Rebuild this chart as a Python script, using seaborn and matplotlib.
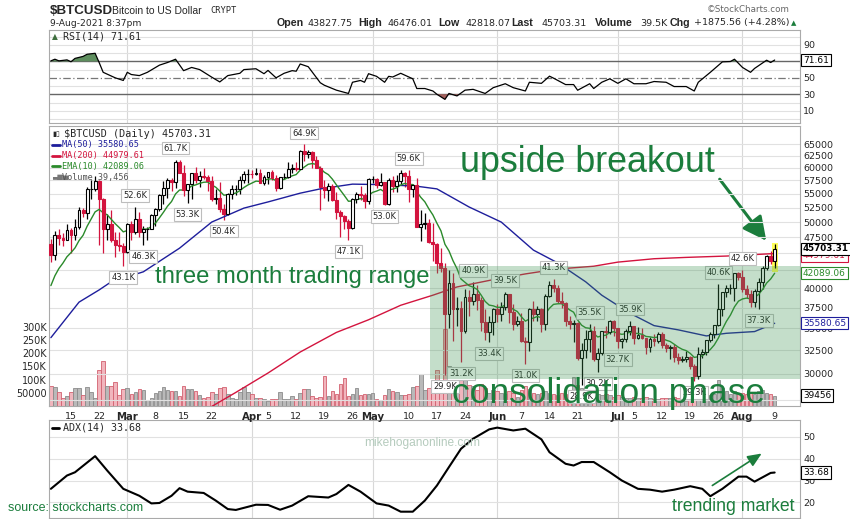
import numpy as np
import matplotlib
matplotlib.use("Agg")
import matplotlib.pyplot as plt
from matplotlib.patches import Rectangle, FancyArrowPatch
from matplotlib.lines import Line2D
from matplotlib.ticker import NullLocator, NullFormatter
import seaborn as sns

sns.set_style("white")
plt.rcParams['font.family'] = ['DejaVu Sans']

# ---- daily candles, Feb 10 2021 .. Aug 9 2021 (day 0 = Feb 10), thousands of USD
opens = [46.4, 44.8, 47.9, 47.4, 47.1, 48.7, 47.9, 49.1, 52.1, 51.6, 55.9, 55.9, 57.4, 54.1, 48.9, 49.7, 47.1, 46.3, 46.2,
         45.2, 49.6, 48.4, 50.5, 48.4, 48.8, 48.9, 51.2, 52.3, 54.8, 56.0, 57.5, 57.3, 61.2, 59.0, 55.6, 56.9, 58.9, 57.6,
         58.3, 58.1, 57.4, 54.1, 54.3, 52.3, 51.3, 55.0, 55.8, 55.8, 57.6, 58.8,
         58.8, 58.7, 59.0, 57.1, 58.2, 59.1, 58.0, 56.0, 58.1, 58.1, 59.8, 59.9, 59.8, 63.5, 62.9, 63.3, 61.5, 60.0, 56.2,
         55.7, 56.5, 53.8, 51.7, 51.1, 50.1, 49.0, 54.0, 55.0, 54.8, 53.6,
         57.7, 57.8, 56.6, 57.2, 53.2, 57.5, 56.4, 57.4, 58.9, 58.3, 55.8, 56.7, 49.2, 49.7, 49.9, 46.7, 46.4, 43.5, 42.9,
         36.7, 40.8, 37.3, 37.5, 34.7, 38.8, 38.3, 39.3, 38.5, 35.7, 34.6, 35.7,
         37.3, 36.7, 37.6, 39.2, 36.9, 35.5, 35.8, 33.5, 33.4, 37.3, 36.7, 37.3, 35.5, 39.0, 40.5, 40.1, 38.3, 38.1, 35.8,
         35.5, 35.6, 31.7, 32.5, 33.7, 34.7, 31.6, 32.2, 34.7, 34.5, 35.9,
         35.0, 33.5, 33.8, 34.7, 35.3, 33.9, 34.2, 33.9, 32.9, 33.8, 33.5, 34.3, 33.1, 32.7, 32.8, 31.8, 31.4, 31.5, 31.8,
         30.8, 29.8, 32.1, 32.3, 33.6, 34.3, 35.4, 37.3, 39.5, 40.0, 40.0, 42.2,
         41.6, 39.9, 39.2, 38.2, 39.7, 40.9, 42.9, 44.6, 43.83]
highs = [47.3, 48.6, 48.9, 48.2, 49.7, 49.0, 50.5, 52.6, 52.5, 56.2, 57.5, 58.3, 57.5, 54.2, 51.4, 52.1, 48.4, 48.4, 46.6,
         49.8, 50.2, 52.6, 51.8, 49.4, 49.2, 51.4, 52.4, 54.9, 57.4, 58.0, 58.0, 61.7, 61.6, 60.6, 56.9, 58.9, 60.1, 59.4,
         59.9, 58.6, 58.4, 55.8, 57.2, 53.2, 55.1, 56.6, 56.6, 58.4, 59.4, 59.8,
         59.5, 60.0, 59.8, 58.5, 59.2, 59.5, 58.6, 58.2, 58.9, 61.2, 60.7, 61.2, 63.7, 64.9, 63.8, 63.5, 62.5, 60.4, 57.6,
         57.0, 56.8, 55.4, 52.1, 51.2, 50.5, 54.3, 55.4, 56.4, 55.2, 58.0,
         58.4, 57.9, 58.9, 57.2, 57.9, 58.3, 58.6, 59.5, 59.2, 59.6, 56.9, 58.0, 52.0, 51.5, 50.6, 49.8, 46.6, 45.8, 43.5,
         42.5, 42.2, 38.8, 38.3, 39.9, 39.8, 40.9, 40.4, 38.9, 37.3, 36.4, 37.5,
         37.9, 38.2, 39.5, 39.3, 37.9, 36.4, 36.8, 34.0, 37.5, 38.4, 37.7, 37.4, 39.3, 41.0, 41.3, 40.5, 39.5, 38.2, 36.4,
         36.0, 35.7, 33.3, 34.8, 35.5, 35.3, 32.7, 34.7, 35.3, 36.0, 36.0,
         35.0, 33.9, 34.9, 35.9, 35.3, 35.1, 35.0, 33.9, 34.0, 34.3, 34.6, 34.6, 33.3, 33.1, 33.2, 32.2, 31.9, 32.4, 31.9,
         31.0, 32.8, 32.6, 33.6, 34.5, 35.4, 40.6, 39.5, 40.5, 40.6, 42.2, 42.3,
         42.6, 40.4, 39.8, 39.9, 41.4, 43.1, 44.7, 45.3, 46.48]
lows = [43.7, 44.0, 46.3, 46.1, 47.0, 45.0, 47.0, 48.9, 50.9, 50.6, 54.0, 55.5, 46.3, 45.0, 47.1, 46.7, 44.4, 45.3, 43.1,
        45.1, 47.1, 48.1, 47.5, 46.3, 47.1, 48.9, 49.3, 51.9, 53.1, 54.3, 55.5, 56.1, 59.0, 54.6, 53.3, 54.1, 57.0, 56.3,
        57.8, 55.5, 53.7, 53.1, 51.7, 50.4, 51.2, 54.0, 54.7, 54.9, 57.0, 57.0,
        58.0, 58.5, 57.1, 56.6, 56.8, 57.6, 55.5, 55.9, 57.7, 57.9, 59.0, 59.4, 59.8, 61.3, 62.1, 60.0, 59.9, 52.0, 54.3,
        53.6, 53.7, 50.6, 47.6, 48.8, 47.1, 48.8, 53.3, 53.9, 52.4, 53.1,
        57.1, 56.1, 56.5, 53.0, 52.9, 55.3, 55.4, 56.9, 56.3, 53.5, 54.4, 49.1, 46.9, 48.9, 46.6, 43.8, 42.2, 42.3, 29.9,
        35.0, 33.5, 35.3, 31.2, 34.4, 36.4, 37.8, 37.2, 34.7, 33.6, 33.4, 34.2,
        35.7, 35.9, 37.2, 35.6, 34.8, 35.3, 33.4, 31.0, 32.4, 35.8, 35.9, 34.6, 34.8, 38.8, 39.5, 38.1, 37.4, 35.2, 34.9,
        33.4, 31.4, 28.9, 31.7, 32.3, 31.3, 30.2, 32.0, 33.9, 34.3, 34.1,
        32.7, 32.7, 33.4, 34.2, 33.2, 33.7, 33.8, 32.1, 32.3, 33.0, 33.3, 32.7, 32.3, 31.6, 31.2, 31.0, 31.2, 31.2, 30.5,
        29.3, 29.5, 31.7, 32.0, 33.4, 33.9, 35.3, 36.4, 38.8, 39.3, 38.3, 41.1,
        39.5, 38.7, 37.6, 37.6, 37.3, 39.9, 42.6, 43.4, 42.82]
closes = [44.8, 47.9, 47.4, 47.1, 48.7, 47.9, 49.1, 52.1, 51.6, 55.9, 55.9, 57.4, 54.1, 48.9, 49.7, 47.1, 46.3, 46.2, 45.2,
          49.6, 48.4, 50.5, 48.4, 48.8, 48.9, 51.2, 52.3, 54.8, 56.0, 57.5, 57.3, 61.2, 59.0, 55.6, 56.9, 58.9, 57.6, 58.3,
          58.1, 57.4, 54.1, 54.3, 52.3, 51.3, 55.0, 55.8, 55.8, 57.6, 58.8, 58.8,
          58.7, 59.0, 57.1, 58.2, 59.1, 58.0, 56.0, 58.1, 58.1, 59.8, 59.9, 59.8, 63.5, 62.9, 63.3, 61.5, 60.0, 56.2, 55.7,
          56.5, 53.8, 51.7, 51.1, 50.1, 49.0, 54.0, 55.0, 54.8, 53.6, 57.7,
          57.8, 56.6, 57.2, 53.2, 57.5, 56.4, 57.4, 58.9, 58.3, 55.8, 56.7, 49.2, 49.7, 49.9, 46.7, 46.4, 43.5, 42.9, 36.7,
          40.8, 37.3, 37.5, 34.7, 38.8, 38.3, 39.3, 38.5, 35.7, 34.6, 35.7, 37.3,
          36.7, 37.6, 39.2, 36.9, 35.5, 35.8, 33.5, 33.4, 37.3, 36.7, 37.3, 35.5, 39.0, 40.5, 40.1, 38.3, 38.1, 35.8, 35.5,
          35.6, 31.7, 32.5, 33.7, 34.7, 31.6, 32.2, 34.7, 34.5, 35.9, 35.0,
          33.5, 33.8, 34.7, 35.3, 33.9, 34.2, 33.9, 32.9, 33.8, 33.5, 34.3, 33.1, 32.7, 32.8, 31.8, 31.4, 31.5, 31.8, 30.8,
          29.8, 32.1, 32.3, 33.6, 34.3, 35.4, 37.3, 39.5, 40.0, 40.0, 42.2, 41.6,
          39.9, 39.2, 38.2, 39.7, 40.9, 42.9, 44.6, 43.8, 45.70]
# volume, thousands
volumes = [76, 71, 54, 32, 36, 52, 67, 67, 40, 71, 52, 32, 137, 169, 75, 75, 90, 40, 66,
           67, 44, 54, 64, 59, 22, 31, 48, 57, 71, 61, 57, 57, 36, 75, 65, 65, 57, 40, 30, 34, 54, 46, 67, 71, 44, 31,
           27, 52, 71, 52,
           46, 31, 31, 26, 18, 28, 28, 54, 26, 25, 39, 26, 48, 65, 64, 36, 32, 35, 114, 36, 57, 44, 83, 106, 36, 44, 67,
           41, 44, 44,
           48, 26, 22, 41, 65, 57, 52, 41, 41, 44, 71, 75, 123, 60, 70, 95, 135, 100, 290, 150, 120, 80, 130, 100, 80,
           75, 60, 85, 70, 50, 60,
           55, 50, 45, 55, 50, 35, 60, 75, 65, 50, 45, 50, 55, 50, 45, 40, 50, 45, 40, 110, 80, 70, 55, 65, 55, 45, 40,
           45, 40, 35,
           40, 35, 30, 30, 35, 30, 30, 35, 30, 25, 25, 30, 30, 30, 35, 30, 20, 20, 30, 40, 60, 45, 40, 40, 45, 97, 70,
           55, 45, 55, 45,
           50, 45, 50, 45, 55, 60, 50, 45, 39.456]

ema10_seed = 39.4   # EMA(10) value the day before the first candle

ma50_days = [0, 7, 12, 15, 23, 32, 40, 48, 54, 62, 67, 75, 83, 91, 96, 104, 112, 120, 126, 133, 137, 144, 150, 156,
             163, 168, 175, 180]
ma50_vals = [33.9, 38.2, 39.8, 40.9, 42.3, 45.8, 50.0, 52.4, 53.5, 55.1, 55.9, 56.8, 56.7, 56.4, 55.9, 52.6, 50.0,
             45.5, 43.6, 40.9, 39.1, 36.8, 35.3, 34.8, 34.1, 34.4, 34.6, 35.58]
ma200_days = [40, 46, 54, 62, 71, 79, 87, 95, 101, 110, 118, 126, 135, 141, 150, 158, 168, 180]
ma200_vals = [26.9, 28.2, 30.1, 32.3, 34.5, 36.0, 37.8, 39.1, 40.2, 41.2, 42.0, 42.7, 43.1, 43.7, 44.2, 44.4, 44.6,
              44.98]

rsi_days = [0, 1, 2, 4, 5, 6, 8, 9, 11, 12, 13, 16, 18, 19, 20, 22, 24, 27, 29, 31, 33, 35, 37, 40, 42, 44, 47, 48,
            51, 53, 54, 56, 58, 60, 61, 62, 64, 67, 68, 71, 74, 75, 77, 78, 79, 81, 83, 84, 85, 87, 90, 91, 93, 95,
            96, 98, 99, 101, 103, 105, 108, 110, 113, 115, 118, 119, 122, 124, 125, 128, 130, 131, 134, 135, 137,
            139, 141, 143, 145, 148, 150, 153, 155, 158, 160, 161, 164, 167, 169, 170, 172, 174, 175, 178, 179, 180]
rsi_vals = [70.6, 72.6, 70.6, 71.8, 69.5, 73.6, 76, 78.6, 79.8, 68.6, 56.7, 50, 46.8, 56.7, 54, 52.7, 56.7, 65.4,
            68.6, 72.6, 58.7, 62.6, 60, 50.8, 45, 52.7, 55.5, 60, 61, 55, 59, 50, 55.5, 58.7, 58, 66.8, 63.5, 44, 41,
            35, 31, 44.6, 46.8, 44.6, 55, 51.8, 44.6, 51.8, 51, 55.5, 48.8, 37, 37, 34, 30, 23.8, 31, 28, 35, 36, 31,
            38, 42.8, 38, 34, 44.6, 43.3, 52, 49.6, 41.8, 41.8, 34.9, 42.8, 37, 44.6, 48.8, 43.3, 48.8, 42.8, 42.8,
            45.5, 44.6, 39.4, 39.4, 34, 44.6, 56.7, 69.4, 69.8, 72.6, 62.6, 56.7, 61.4, 71.4, 68.6, 71.61]

adx_days = [0, 4, 6, 11, 14, 18, 22, 25, 27, 30, 32, 34, 38, 41, 44, 46, 51, 54, 57, 60, 64, 69, 71, 74, 77, 81, 84,
            87, 90, 93, 96, 99, 102, 105, 109, 111, 115, 118, 122, 124, 128, 130, 132, 135, 139, 142, 146, 149, 152,
            155, 159, 162, 164, 167, 171, 173, 175, 179, 180]
adx_vals = [26.2, 32.3, 33.8, 41.2, 34.6, 26.2, 23, 19.5, 19.7, 23, 26.5, 24.9, 24.3, 20.8, 16.9, 16.5, 18.9, 18.8,
            16.6, 18.5, 22.8, 22.2, 23.8, 28, 24.9, 19.5, 18.5, 15.7, 15.7, 20.8, 27.7, 36.2, 44.6, 49.2, 53.5, 54.3,
            53, 53.8, 48.9, 43, 37.7, 36.9, 38.5, 38.5, 33.8, 30, 26.2, 25.8, 24.9, 25.8, 27.4, 26.2, 22.8, 26.2,
            31.8, 31.8, 29.5, 33.5, 33.68]

last_price = "45703.31"
ma50_last = 35580.65
ma200_last = 44979.61
ema10_last = 42089.06
volume_last = 39456
rsi_last = 71.61
adx_last = 33.68

high_label_days = [21, 31, 63, 89, 105, 113, 125, 134, 144, 166, 172]
low_label_days = [18, 23, 34, 43, 74, 83, 98, 102, 109, 118, 132, 136, 141, 160, 176]

tick_days = [5, 12, 19, 26, 33, 40, 50, 54, 61, 68, 75, 80, 89, 96, 103, 111, 117, 124, 131, 141, 145, 152, 159,
             166, 172, 180]
tick_labels = ["15", "22", "Mar", "8", "15", "22", "Apr", "5", "12", "19", "26", "May", "10", "17", "24", "Jun",
               "7", "14", "21", "Jul", "5", "12", "19", "26", "Aug", "9"]
month_names = ["Mar", "Apr", "May", "Jun", "Jul", "Aug"]
month_days = [19, 50, 80, 111, 141, 172]

price_ticks = [27.5, 30, 32.5, 35, 37.5, 40, 42.5, 45, 47.5, 50, 52.5, 55, 57.5, 60, 62.5, 65]
vol_ticks = [50, 100, 150, 200, 250, 300]
vol_tick_labels = ["50000", "100K", "150K", "200K", "250K", "300K"]

# consolidation box (day span, price span in K)
box_start, box_low, box_high = 94.3, 29.5, 43.1

# ---- derived series
o = np.array(opens); h = np.array(highs); l = np.array(lows); c = np.array(closes)
v = np.array(volumes)
days = np.arange(len(c))
prev_c = np.concatenate([[o[0]], c[:-1]])

ema10 = []
e = ema10_seed
for val in c:
    e = e + 2.0 / 11 * (val - e)
    ema10.append(e)

RED = "#d3143e"
NAVY = "#1e1e9c"
GREEN = "#2a8a2a"
TXTGREEN = "#1b7d3c"
GRID = "#e1e1e1"
SPINE = "#aaaaaa"

W, H = 850, 519
fig = plt.figure(figsize=(W / 100, H / 100), dpi=100)


def fx(x):
    return x / W


def fy(y):
    return 1 - y / H


def rect(left, top, right, bottom):
    return [left / W, 1 - bottom / H, (right - left) / W, (bottom - top) / H]


XL = (-0.47, 186.3)
ax_rsi = fig.add_axes(rect(49, 30, 800, 123))
ax_vol = fig.add_axes(rect(49, 126, 800, 406))
ax = fig.add_axes(rect(49, 126, 800, 406))
ax_adx = fig.add_axes(rect(49, 420, 800, 518))
ax.set_zorder(ax_vol.get_zorder() + 1)
ax.patch.set_visible(False)

for a in (ax_rsi, ax, ax_adx, ax_vol):
    for s in a.spines.values():
        s.set_color(SPINE)
        s.set_linewidth(0.8)
for s in ax_vol.spines.values():
    s.set_visible(False)

for a in (ax_rsi, ax_vol, ax_adx):
    for d in month_days:
        a.axvline(d, color="#d8d8d8", lw=0.8, zorder=0)

# ---- volume
vol_down = c < prev_c
ax_vol.bar(days, v, width=0.9,
           color=np.where(vol_down, "#f1b5bd", "#b9b9b9"),
           edgecolor=np.where(vol_down, "#d26170", "#8c8c8c"), linewidth=0.6, zorder=2)
ax_vol.set_ylim(0, 1060)
ax_vol.set_xlim(*XL)
ax_vol.set_yticks(vol_ticks)
ax_vol.set_yticklabels(vol_tick_labels)
ax_vol.tick_params(axis='y', length=0, pad=1.5, labelsize=6.9, left=True, labelleft=True,
                   right=False, labelright=False)
ax_vol.tick_params(axis='x', bottom=False, labelbottom=False)

# ---- price panel
ax.set_yscale('log')
ax.grid(axis='y', color=GRID, lw=0.8, zorder=0)
ax.set_axisbelow(True)

cols = np.where(c < prev_c, RED, "black")
faces = np.where(c < o, cols, "white")
ax.vlines(days, l, h, colors=cols, lw=0.9, zorder=3)
ax.bar(days, np.maximum(np.abs(c - o), 0.06), bottom=np.minimum(o, c), width=0.72,
       color=faces, edgecolor=cols, linewidth=0.8, zorder=4)

sns.lineplot(x=ma200_days, y=ma200_vals, ax=ax, color=RED, lw=1.0, zorder=3.5)
sns.lineplot(x=ma50_days, y=ma50_vals, ax=ax, color=NAVY, lw=1.0, zorder=3.5)
sns.lineplot(x=days, y=ema10, ax=ax, color=GREEN, lw=1.0, zorder=3.5)

# last candle highlight
ax.add_patch(Rectangle((days[-1] - 0.75, l[-1] * 0.987), 1.5, h[-1] * 1.001 - l[-1] * 0.987,
                       facecolor="#ffff58", edgecolor="none", zorder=2.8))

lab_style = dict(fontsize=6, ha='center', zorder=4.5,
                 bbox=dict(boxstyle='square,pad=0.22', fc='white', ec='#bdbdbd', lw=0.8))
for d in high_label_days:
    ax.annotate(f"{h[d]:.1f}K", xy=(d, h[d]), xytext=(0, 5), textcoords='offset points', va='bottom', **lab_style)
for d in low_label_days:
    ax.annotate(f"{l[d]:.1f}K", xy=(d, l[d]), xytext=(0, -5), textcoords='offset points', va='top', **lab_style)

ax.add_patch(Rectangle((box_start, box_low), XL[1] - box_start, box_high - box_low,
                       facecolor="#3e9452", alpha=0.3, edgecolor="none", zorder=5))

ax.set_xlim(*XL)
ax.set_ylim(26.94, 69.06)
ax.yaxis.set_minor_locator(NullLocator())
ax.yaxis.set_minor_formatter(NullFormatter())
ax.set_yticks(price_ticks)
ax.set_yticklabels([f"{t * 1000:.0f}" for t in price_ticks])
ax.yaxis.tick_right()
ax.tick_params(axis='y', length=0, pad=2.2, labelsize=6.8)
ax.set_xticks(tick_days)
ax.set_xticklabels(tick_labels)
ax.tick_params(axis='x', length=2.5, width=0.6, color=SPINE, pad=1.5, labelsize=6.8)
for lab in ax.get_xticklabels():
    if lab.get_text() in month_names:
        lab.set_fontweight('bold')
        lab.set_fontsize(7.3)
ax.set_xlabel("")
ax.set_ylabel("")


def right_box(a, y, text, color, weight='normal', z=8, trans=None, size=6.5):
    a.text(1.004, y, text, transform=trans or a.get_yaxis_transform(), ha='left', va='center',
           fontsize=size, color=color, fontweight=weight, clip_on=False, zorder=z,
           bbox=dict(boxstyle='square,pad=0.18', fc='white', ec=color, lw=0.8))


right_box(ax, ma200_last / 1000 * 0.992, f"{ma200_last:.2f}", RED, z=8)
right_box(ax, float(last_price) / 1000, last_price, 'black', weight='bold', z=9, size=6.3)
right_box(ax, ema10_last / 1000, f"{ema10_last:.2f}", GREEN)
right_box(ax, ma50_last / 1000, f"{ma50_last:.2f}", NAVY)
right_box(ax, volume_last / 1000, f"{volume_last}", 'black', trans=ax_vol.get_yaxis_transform(), size=6.4)

# ---- RSI panel
for lv in range(0, 101, 10):
    if lv in (30, 70):
        ax_rsi.axhline(lv, color="#666666", lw=1.0, zorder=1)
    elif lv == 50:
        ax_rsi.axhline(lv, color="#777777", lw=0.9, ls=(0, (6, 2, 1, 2)), zorder=1)
    else:
        ax_rsi.axhline(lv, color=GRID, lw=0.8, zorder=0)
rsi_d = np.array(rsi_days, dtype=float)
rsi_v = np.array(rsi_vals)
ax_rsi.fill_between(rsi_d, rsi_v, 70, where=rsi_v > 70, interpolate=True, color="#5e8e5e", lw=0, zorder=2)
ax_rsi.fill_between(rsi_d, rsi_v, 30, where=rsi_v < 30, interpolate=True, color="#a3605c", lw=0, zorder=2)
sns.lineplot(x=rsi_d, y=rsi_v, ax=ax_rsi, color='black', lw=0.9, zorder=3)
ax_rsi.set_xlim(*XL)
ax_rsi.set_ylim(-4.9, 108.1)
ax_rsi.set_yticks([10, 30, 50, 70, 90])
ax_rsi.yaxis.tick_right()
ax_rsi.tick_params(axis='y', length=0, pad=2.2, labelsize=6.8)
ax_rsi.set_xticks([])
ax_rsi.set_xlabel("")
ax_rsi.set_ylabel("")
right_box(ax_rsi, rsi_last, f"{rsi_last:.2f}", 'black')

# ---- ADX panel
for lv in (20, 30, 40, 50):
    ax_adx.axhline(lv, color=GRID, lw=0.8, zorder=0)
sns.lineplot(x=adx_days, y=adx_vals, ax=ax_adx, color='black', lw=1.5, zorder=3)
ax_adx.set_xlim(*XL)
ax_adx.set_ylim(12.8, 57.8)
ax_adx.set_yticks([20, 30, 40, 50])
ax_adx.yaxis.tick_right()
ax_adx.tick_params(axis='y', length=0, pad=2.2, labelsize=6.8)
ax_adx.set_xticks([])
ax_adx.set_xlabel("")
ax_adx.set_ylabel("")
right_box(ax_adx, adx_last, f"{adx_last:.2f}", 'black')

# ---- header
fig.text(fx(50), fy(13.5), r"\$BTCUSD", family='Liberation Sans', weight='bold', size=9.6, va='baseline')
fig.text(fx(112), fy(13.5), "Bitcoin to US Dollar", family='Liberation Sans', size=7.5, va='baseline')
fig.text(fx(210), fy(13.0), "CRYPT", family='DejaVu Sans Mono', size=6.3, va='baseline')
fig.text(fx(50), fy(25.5), "9-Aug-2021 8:37pm", size=6.6, va='baseline')
fig.text(fx(790), fy(11.5), "\u00a9StockCharts.com", size=6.3, color="#666666", ha='right', va='baseline')
header = [(277, "Open", True), (308, "43827.75", False), (358, "High", True), (388, "46476.01", False),
          (438, "Low", True), (465, "42818.07", False), (511, "Last", True), (542, last_price, False),
          (595, "Volume", True), (640, "39.5K", False), (670, "Chg", True), (694, "+1875.56 (+4.28%)", False)]
for xp, s, bold in header:
    if bold:
        fig.text(fx(xp), fy(25.5), s, family='Liberation Sans', weight='bold', size=7.7, va='baseline')
    else:
        fig.text(fx(xp), fy(25.5), s, size=6.8, va='baseline')
fig.text(fx(791), fy(25.0), "\u25b2", size=5, color=TXTGREEN, va='baseline')

# ---- panel legends
fig.text(fx(52), fy(36.5), "\u25b2", size=5.5, color="#3f6f3f", va='center')
fig.text(fx(63), fy(36.5), "RSI(14) 71.61", family='DejaVu Sans Mono', size=7.2, va='center')
fig.text(fx(52), fy(134), "\u25ae\u25af", size=5, va='center')
fig.text(fx(64), fy(134), r"\$BTCUSD (Daily) " + last_price, family='DejaVu Sans Mono', size=7.3, va='center')
for yy, col, s in [(144.5, NAVY, f"MA(50) {ma50_last:.2f}"), (155.5, RED, f"MA(200) {ma200_last:.2f}"),
                   (166.5, GREEN, f"EMA(10) {ema10_last:.2f}")]:
    fig.add_artist(Line2D([fx(52), fx(60)], [fy(yy), fy(yy)], color=col, lw=2))
    fig.text(fx(62), fy(yy), s, family='DejaVu Sans Mono', size=6.1, color=col, va='center')
fig.text(fx(52), fy(177.5), "\u2583\u2586\u2585", size=5, color="#777777", va='center')
fig.text(fx(62), fy(177.5), f"Volume {volume_last:,}", family='DejaVu Sans Mono', size=6.1, color="#555555",
         va='center')
fig.add_artist(Line2D([fx(52), fx(59)], [fy(428), fy(428)], color='black', lw=2))
fig.text(fx(63), fy(428), "ADX(14) 33.68", family='DejaVu Sans Mono', size=7.2, va='center')

# ---- commentary
fig.text(fx(460), fy(172.5), "upside breakout", family='Liberation Sans', size=25.8, color=TXTGREEN,
         va='baseline')
fig.text(fx(155), fy(282.5), "three month trading range", family='Liberation Sans', size=17.2, color=TXTGREEN,
         va='baseline')
fig.text(fx(452), fy(403), "consolidation phase", family='Liberation Sans', size=25.5, color=TXTGREEN,
         va='baseline')
fig.text(fx(672), fy(511), "trending market", family='Liberation Sans', size=12.7, color=TXTGREEN, va='baseline')
fig.text(fx(8), fy(511), "source: stockcharts.com", family='Liberation Sans', size=9, color=TXTGREEN,
         va='baseline')
fig.text(fx(364), fy(446), "mikehoganonline.com", family='Liberation Sans', size=8.6, color="#b5cbbd",
         va='baseline')

fig.add_artist(FancyArrowPatch((fx(718), fy(177)), (fx(768), fy(243)), transform=fig.transFigure,
                               arrowstyle='-|>,head_length=0.8,head_width=0.4', mutation_scale=18,
                               color=TXTGREEN, lw=2.2))
fig.add_artist(FancyArrowPatch((fx(710), fy(487)), (fx(764), fy(452)), transform=fig.transFigure,
                               arrowstyle='-|>,head_length=0.7,head_width=0.3', mutation_scale=12,
                               color=TXTGREEN, lw=1.2))

fig.savefig("out.png", dpi=100)
